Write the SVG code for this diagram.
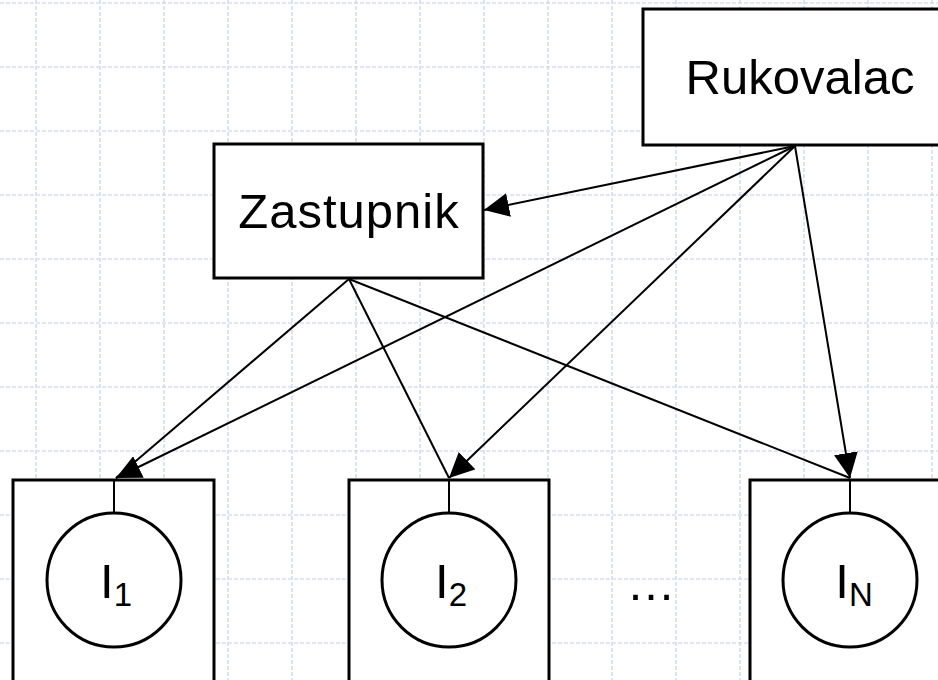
<svg xmlns="http://www.w3.org/2000/svg" width="938" height="680" viewBox="0 0 938 680">
  <style>
    .grid { stroke: #c4cff7; stroke-width: 1.2; stroke-dasharray: 4 2; fill: none; }
    .box { fill: #ffffff; stroke: #000000; stroke-width: 3; }
    .inst { fill: #ffffff; stroke: #000000; stroke-width: 3; }
    .stem { stroke: #000000; stroke-width: 2; }
    .edge { stroke: #000000; stroke-width: 2; fill: none; }
    .label { font-family: "Liberation Sans", Arial, sans-serif; font-size: 49px; fill: #000000; }
    .ilabel { font-family: "Liberation Sans", Arial, sans-serif; font-size: 49px; fill: #000000; }
    .sub { font-size: 33px; }
  </style>
  <defs>
    <marker id="arrow" viewBox="0 0 25 24" refX="25" refY="12" markerWidth="25" markerHeight="24" markerUnits="userSpaceOnUse" orient="auto">
      <path d="M0,0 L25,12 L0,24 z" fill="#000000"/>
    </marker>
  </defs>

  <rect width="938" height="680" fill="#ffffff"/>

  <!-- background grid -->
  <g id="grid" class="grid">
    <path d="M36,0V680 M100,0V680 M164,0V680 M228,0V680 M292,0V680 M356,0V680 M420,0V680 M484,0V680 M548,0V680 M612,0V680 M676,0V680 M740,0V680 M804,0V680 M868,0V680 M932,0V680"/>
    <path d="M0,3H938 M0,67H938 M0,131H938 M0,195H938 M0,259H938 M0,323H938 M0,387H938 M0,451H938 M0,515H938 M0,579H938 M0,643H938"/>
  </g>

  <!-- nodes -->
  <g id="rukovalac">
    <rect class="box" x="643" y="9" width="320" height="136"/>
    <text class="label" x="800" y="94" text-anchor="middle">Rukovalac</text>
  </g>

  <g id="zastupnik">
    <rect class="box" x="214" y="144" width="269" height="134"/>
    <text class="label" x="349" y="228" text-anchor="middle" letter-spacing="1">Zastupnik</text>
  </g>

  <g id="instance-1">
    <rect class="box" x="13" y="480" width="201" height="230"/>
    <line class="stem" x1="114" y1="480" x2="114" y2="513"/>
    <circle class="inst" cx="114" cy="580" r="67"/>
    <text class="ilabel" x="116" y="598" text-anchor="middle">I<tspan class="sub" dy="8">1</tspan></text>
  </g>

  <g id="instance-2">
    <rect class="box" x="349" y="480" width="200" height="230"/>
    <line class="stem" x1="449" y1="480" x2="449" y2="513"/>
    <circle class="inst" cx="449" cy="580" r="67"/>
    <text class="ilabel" x="451" y="598" text-anchor="middle">I<tspan class="sub" dy="8">2</tspan></text>
  </g>

  <g id="ellipsis">
    <text class="label" x="651" y="600" text-anchor="middle" font-size="46">…</text>
  </g>

  <g id="instance-n">
    <rect class="box" x="750" y="480" width="220" height="230"/>
    <line class="stem" x1="850" y1="480" x2="850" y2="513"/>
    <circle class="inst" cx="850" cy="580" r="67"/>
    <text class="ilabel" x="854" y="598" text-anchor="middle">I<tspan class="sub" dy="8">N</tspan></text>
  </g>

  <!-- connectors -->
  <g id="connectors">
    <line class="edge" x1="795" y1="146" x2="484" y2="210" marker-end="url(#arrow)"/>
    <line class="edge" x1="795" y1="146" x2="116" y2="478" marker-end="url(#arrow)"/>
    <line class="edge" x1="795" y1="146" x2="449" y2="478" marker-end="url(#arrow)"/>
    <line class="edge" x1="795" y1="146" x2="850" y2="478" marker-end="url(#arrow)"/>
    <line class="edge" x1="349" y1="279" x2="116" y2="478"/>
    <line class="edge" x1="349" y1="279" x2="449" y2="478"/>
    <line class="edge" x1="349" y1="279" x2="850" y2="478"/>
  </g>
</svg>
